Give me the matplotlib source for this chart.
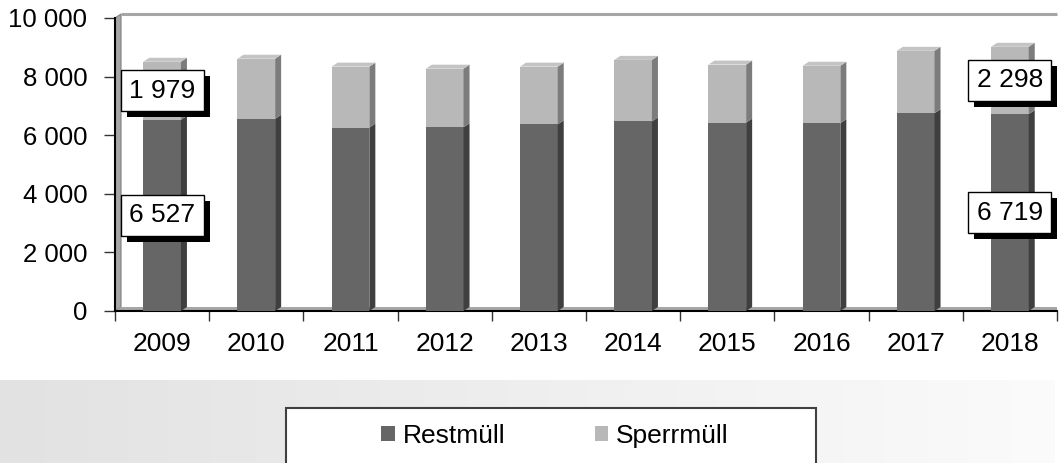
import numpy as np
import matplotlib
matplotlib.use("Agg")
import matplotlib.pyplot as plt
import matplotlib.patheffects as pe
from matplotlib import font_manager
from matplotlib.patches import Polygon, Rectangle

# ---------------------------------------------------------------------------
# Data
# ---------------------------------------------------------------------------

YEARS = ["2009", "2010", "2011", "2012", "2013", "2014", "2015", "2016", "2017", "2018"]
RESTMUELL = [6527, 6560, 6260, 6270, 6370, 6470, 6430, 6410, 6750, 6719]
SPERRMUELL = [1979, 2050, 2080, 2000, 1970, 2100, 1980, 1960, 2130, 2298]
LABELED = [0, 9]   # only first and last year carry value boxes

# ---------------------------------------------------------------------------
# Style
# ---------------------------------------------------------------------------

REST_FRONT, REST_SIDE = "#666666", "#3f3f3f"
SPERR_FRONT, SPERR_SIDE = "#b8b8b8", "#7c7c7c"
TOP_FACE = "#c4c4c4"
WALL = "#a6a6a6"

names = {f.name for f in font_manager.fontManager.ttflist}
BASE_FONT = "Liberation Sans" if "Liberation Sans" in names else "DejaVu Sans"
plt.rcParams["font.family"] = BASE_FONT

W, H = 1059, 463
fig = plt.figure(figsize=(W / 100, H / 100), dpi=100)

# legend band (grey gradient) at the bottom
band = fig.add_axes([0, 0, 1055 / W, (H - 380) / H])
grad = np.linspace(0, 1, 256).reshape(1, -1)
band.imshow(grad, aspect="auto", cmap=matplotlib.colors.LinearSegmentedColormap.from_list(
    "g", ["#e2e2e2", "#fbfbfb"]), extent=[0, 1, 0, 1])
band.axis("off")

ax = fig.add_axes([115 / W, (H - 311) / H, 942 / W, 293 / H])
x = np.arange(len(YEARS))
bw = 0.40
dx = 6 * 10 / 942          # depth offset of the fake 3D (6 px)
dy = 4 * 10000 / 293       # (4 px)

rest = np.array(RESTMUELL)
sperr = np.array(SPERRMUELL)

# back wall / floor
ax.add_patch(Polygon([(-0.5, 0), (-0.5 + dx, dy), (-0.5 + dx, 10000 + dy), (-0.5, 10000)],
                     closed=True, fc=WALL, ec="#808080", lw=0.8, clip_on=False, zorder=1))
ax.add_patch(Polygon([(-0.5, 0), (9.5, 0), (9.5, dy), (-0.5 + dx, dy)],
                     closed=True, fc=WALL, ec="none", clip_on=False, zorder=1))
ax.plot([-0.5 + dx, 9.5], [10000 + dy, 10000 + dy], color=WALL, lw=2.2,
        clip_on=False, zorder=1, solid_capstyle="butt")

ax.bar(x, rest, bw, color=REST_FRONT, zorder=3, label="Restmüll")
ax.bar(x, sperr, bw, bottom=rest, color=SPERR_FRONT, zorder=3, label="Sperrmüll")

for xi, r, s in zip(x, rest, sperr):
    right = xi + bw / 2
    left = xi - bw / 2
    ax.add_patch(Polygon([(right, 0), (right + dx, dy), (right + dx, r + dy), (right, r)],
                         closed=True, fc=REST_SIDE, ec="none", zorder=3))
    ax.add_patch(Polygon([(right, r), (right + dx, r + dy), (right + dx, r + s + dy), (right, r + s)],
                         closed=True, fc=SPERR_SIDE, ec="none", zorder=3))
    ax.add_patch(Polygon([(left, r + s), (left + dx, r + s + dy), (right + dx, r + s + dy), (right, r + s)],
                         closed=True, fc=TOP_FACE, ec="none", zorder=3))

# value boxes with a hard drop shadow
for i in LABELED:
    for val, yc in [(rest[i], rest[i] / 2), (sperr[i], rest[i] + sperr[i] / 2)]:
        txt = f"{val:,}".replace(",", " ")
        t = ax.text(x[i], yc, txt, ha="center", va="center", fontsize=19, color="black",
                    zorder=6, bbox=dict(boxstyle="square,pad=0.32", fc="white", ec="black", lw=1))
        t.get_bbox_patch().set_path_effects([
            pe.SimplePatchShadow(offset=(4.3, -4.3), shadow_rgbFace="black", alpha=1.0),
            pe.Normal()])

ax.set_xlim(-0.5, 9.5)
ax.set_ylim(0, 10000)
ax.set_yticks(np.arange(0, 10001, 2000))
ax.set_yticklabels([f"{v:,}".replace(",", " ") for v in range(0, 10001, 2000)])
ax.tick_params(axis="y", length=8, width=1, pad=12, labelsize=18.5, color="#333333")

ax.set_xticks(np.arange(-0.5, 10, 1))
ax.set_xticklabels([])
ax.set_xticks(x, minor=True)
ax.set_xticklabels(YEARS, minor=True, fontsize=19)
ax.tick_params(axis="x", which="major", length=7, width=1, color="#333333")
ax.tick_params(axis="x", which="minor", length=0, pad=15)

for side in ["top", "right"]:
    ax.spines[side].set_visible(False)
ax.spines["left"].set_linewidth(1.5)
ax.spines["bottom"].set_linewidth(1.5)
ax.set_facecolor("none")

# legend box, cut by the lower edge of the picture
fig.patches.append(Rectangle((286 / W, -0.05), (816 - 286) / W, (H - 408) / H + 0.05,
                             transform=fig.transFigure, fc="white", ec="#404040", lw=1.5,
                             zorder=2))
handles, labels = ax.get_legend_handles_labels()
leg = fig.legend(handles, labels, loc="center", bbox_to_anchor=(555 / W, (H - 436) / H),
                 ncol=2, frameon=False, fontsize=19, handlelength=0.5, handleheight=0.5,
                 handletextpad=0.3, columnspacing=3.4)
leg.set_zorder(3)

fig.savefig("out.png", dpi=100)
